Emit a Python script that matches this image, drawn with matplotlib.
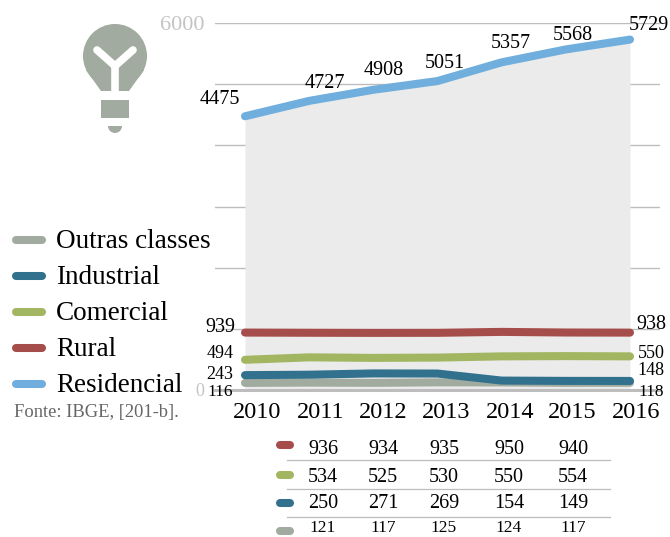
import matplotlib
matplotlib.use("Agg")
import matplotlib.pyplot as plt
from matplotlib.patches import Circle, Polygon, Rectangle, Wedge

# dados
anos = [2010, 2011, 2012, 2013, 2014, 2015, 2016]
residencial = [4475, 4727, 4908, 5051, 5357, 5568, 5729]
rural = [939, 936, 934, 935, 950, 940, 938]
comercial = [494, 534, 525, 530, 550, 554, 550]
industrial = [243, 250, 271, 269, 154, 149, 148]
outras = [116, 121, 117, 125, 124, 117, 118]

nomes = ["Outras classes", "Industrial", "Comercial", "Rural", "Residencial"]
series = [outras, industrial, comercial, rural, residencial]
cores = ["#A2ABA0", "#31718D", "#A2B661", "#A54D4A", "#6FAEDD"]
y_ticks = [0, 1000, 2000, 3000, 4000, 5000, 6000]

plt.rcParams["font.family"] = ["Liberation Serif", "DejaVu Serif"]

W, H = 670, 537
fig = plt.figure(figsize=(W / 100, H / 100), dpi=100)

# eixo principal: x 215..660 px, y 23..390 px
ax = fig.add_axes([215 / W, 1 - 390 / H, 445 / W, 367 / H])
ax.set_xlim(2010 - 30 / 64.17, 2016 + 30 / 64.17)
ax.set_ylim(0, 6000)
for s in ax.spines.values():
    s.set_visible(False)
ax.patch.set_alpha(0)
ax.set_yticks(y_ticks)
ax.set_yticklabels([])
ax.set_xticks([])
ax.tick_params(length=0)
ax.grid(axis="y", color="#BDBDBD", lw=1.0, zorder=0)
ax.set_axisbelow(True)
ax.fill_between(anos, 0, residencial, color="#EBEBEB", lw=0, zorder=1)
ax.axhline(0, color="#BDBDBD", lw=2.2, zorder=2, clip_on=False)

for vals, cor in zip(series, cores):
    ax.plot(anos, vals, color=cor, lw=5.8, solid_capstyle="round",
            solid_joinstyle="round", zorder=3)

# rótulos dos valores em residencial
offs_res = [(-25, 17), (16, 17), (10, 19), (7, 18), (9, 19), (7, 14), (19, 14)]
for a, v, (dx, dy) in zip(anos, residencial, offs_res):
    ax.annotate(str(v), (a, v), xytext=(dx * 0.72, dy * 0.72), textcoords="offset points",
                ha="center", va="center", fontsize=14.5, color="black", zorder=5)

# rótulos nas pontas das outras séries
offs_esq = [-9, 1, 6, 5]
offs_dir = [-9, 10, 3, 8]
tam = [12.5, 13, 13, 14.5]
for vals, de, dd, fs in zip([outras, industrial, comercial, rural], offs_esq, offs_dir, tam):
    ax.annotate(str(vals[0]), (anos[0], vals[0]), xytext=(-25 * 0.72, de * 0.72),
                textcoords="offset points", ha="center", va="center", fontsize=fs, zorder=5)
    ax.annotate(str(vals[-1]), (anos[-1], vals[-1]), xytext=(21 * 0.72, dd * 0.72),
                textcoords="offset points", ha="center", va="center", fontsize=fs, zorder=5)

# camada em pixels para o resto
ov = fig.add_axes([0, 0, 1, 1])
ov.set_xlim(0, W)
ov.set_ylim(H, 0)
ov.axis("off")
ov.patch.set_alpha(0)

ov.text(182, 25, "6000", color="#C4C4C4", fontsize=16, ha="center", va="center")
ov.text(200, 392, "0", color="#C4C4C4", fontsize=13, ha="center", va="center")

# anos
for a, x in zip(anos, [257, 321, 383, 446, 510, 572, 636]):
    ov.text(x, 413, str(a), fontsize=17.5, ha="center", va="center", color="black")

# legenda
for nome, cor, y in zip(nomes, cores, [240, 276, 312, 348, 384]):
    ov.plot([16, 42], [y, y], color=cor, lw=5.8, solid_capstyle="round")
    ov.text(56, y + 1, nome, fontsize=19.5, va="center", color="black")

ov.text(14, 412, "Fonte: IBGE, [201-b].", fontsize=13.3, color="#666666", va="center")

# tabela
tabela = [[936, 934, 935, 950, 940],
          [534, 525, 530, 550, 554],
          [250, 271, 269, 154, 149],
          [121, 117, 125, 124, 117]]
cores_tab = [cores[3], cores[2], cores[1], cores[0]]
linhas_y = [450, 478, 504, 528]
swatch_y = [445, 475, 503, 531]
for linha, cor, y, sy, fs in zip(tabela, cores_tab, linhas_y, swatch_y, [14.5, 14.5, 14.5, 12.5]):
    ov.plot([280, 290], [sy, sy], color=cor, lw=5.8, solid_capstyle="round")
    for v, x in zip(linha, [323, 383, 444, 509, 573]):
        ov.text(x, y, str(v), fontsize=fs, ha="center", va="center", color="black")
for y in [460, 489, 517]:
    ov.plot([287, 610], [y, y], color="#BDBDBD", lw=0.9)

# lâmpada
cinza = "#A2ABA0"
ov.add_patch(Circle((115, 56), 32, color=cinza, lw=0))
ov.add_patch(Polygon([(86, 70), (101, 91), (129, 91), (144, 70)], color=cinza, lw=0))
ov.plot([97, 115, 133], [50, 66, 50], color="white", lw=5.5, solid_capstyle="round",
        solid_joinstyle="miter")
ov.plot([115, 115], [64, 92], color="white", lw=5.5, solid_capstyle="butt")
ov.add_patch(Rectangle((101, 100), 28, 18, color=cinza, lw=0))
ov.add_patch(Wedge((115, 126), 7, 0, 180, color=cinza, lw=0))

fig.savefig("out.png", dpi=100)
